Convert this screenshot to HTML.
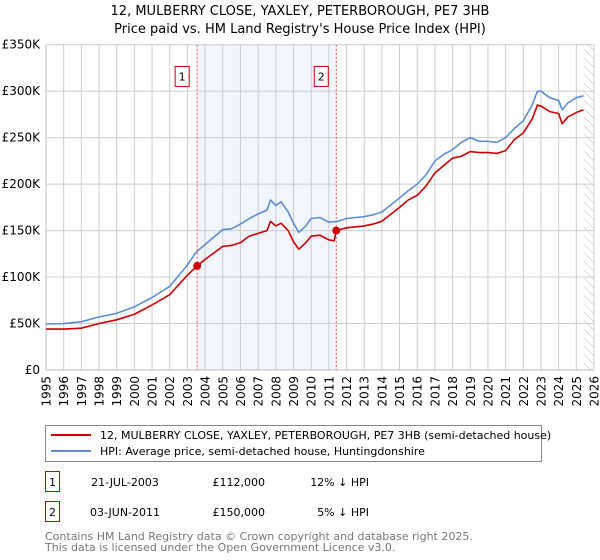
<!DOCTYPE html>
<html><head><meta charset="utf-8"><style>
body{margin:0;background:#fff;font-family:"Liberation Sans","DejaVu Sans",sans-serif;}
#wrap{position:relative;width:600px;height:560px;overflow:hidden}
svg text{font-family:"DejaVu Sans","Liberation Sans",sans-serif}
</style></head><body>
<div id="wrap">
<svg id="c" width="600" height="560"></svg>
</div>
<script>
const hpiYears=[1995,1996,1997,1998,1999,2000,2001,2002,2003,2003.5,2004,2005,2005.5,2006,2006.5,2007,2007.5,2007.7,2008,2008.3,2008.7,2009,2009.3,2009.7,2010,2010.5,2011,2011.5,2012,2013,2013.5,2014,2015,2015.5,2016,2016.5,2017,2017.5,2018,2018.5,2019,2019.5,2020,2020.5,2021,2021.5,2022,2022.5,2022.8,2023,2023.5,2024,2024.2,2024.5,2025,2025.4];
const hpiValues=[49.5,50,52,57,61,68,78,90,113,127,135,151,152,157,163,168,172,183,177,181,170,158,148,155,163,164,159,160,163,165,167,170,185,193,200,210,225,232,237,245,250,246,246,245,250,260,268,285,300,300,293,290,280,287,293,295];
const priceYears=[1995,1996,1997,1998,1999,2000,2001,2002,2003,2003.55,2004,2005,2005.5,2006,2006.5,2007,2007.5,2007.7,2008,2008.3,2008.7,2009,2009.3,2009.7,2010,2010.5,2011,2011.3,2011.42,2012,2013,2013.5,2014,2015,2015.5,2016,2016.5,2017,2017.5,2018,2018.5,2019,2019.5,2020,2020.5,2021,2021.5,2022,2022.5,2022.8,2023,2023.5,2024,2024.2,2024.5,2025,2025.4];
const priceValues=[44,44,45,50,54,60,70,81,102,112,119,133,134,137,144,147,150,160,155,158,150,138,130,137,144,145,140,139,150,153,155,157,160,175,183,188,198,212,220,228,230,235,234,234,233,236,248,255,270,285,284,278,276,265,272,277,280];
const sales=[{n:"1",x:2003.55,v:112},{n:"2",x:2011.42,v:150}];
const yTicks=[0,50,100,150,200,250,300,350];
const yTickLabels=["£0","£50K","£100K","£150K","£200K","£250K","£300K","£350K"];
const xTicks=[1995,1996,1997,1998,1999,2000,2001,2002,2003,2004,2005,2006,2007,2008,2009,2010,2011,2012,2013,2014,2015,2016,2017,2018,2019,2020,2021,2022,2023,2024,2025,2026];

const L=46,R=594,T=44.7,B=370;
const X=y=>L+(y-1995)/31*(R-L);
const Y=v=>B-v/350*(B-T);
const svg=document.getElementById('c');
const NS='http://www.w3.org/2000/svg';
function mk(t,a,parent){const e=document.createElementNS(NS,t);for(const k in a)e.setAttribute(k,a[k]);(parent||svg).appendChild(e);return e;}

let t=mk('text',{x:300,y:15,'text-anchor':'middle','font-size':'13'});t.textContent='12, MULBERRY CLOSE, YAXLEY, PETERBOROUGH, PE7 3HB';


t=mk('text',{x:300,y:33,'text-anchor':'middle','font-size':'13'});t.textContent="Price paid vs. HM Land Registry's House Price Index (HPI)";



let sh=mk('rect',{x:X(sales[0].x),y:T,width:X(sales[1].x)-X(sales[0].x),height:B-T,fill:'#eef3fc',opacity:0.8});



const defs=mk('defs',{});
const pat=mk('pattern',{id:'h',width:6,height:6,patternUnits:'userSpaceOnUse',patternTransform:'rotate(-45)'},defs);
mk('line',{x1:0,y1:0,x2:0,y2:6,stroke:'#bbb','stroke-width':1},pat);
let hz=mk('rect',{x:X(2025.45),y:T,width:R-X(2025.45),height:B-T,fill:'url(#h)'});



xTicks.forEach(y=>{
  const g=mk('line',{x1:X(y),x2:X(y),y1:T,y2:B,stroke:'#ccc','stroke-width':1});
  
  
  const l=mk('text',{x:0,y:0,'text-anchor':'end','font-size':'12',transform:`translate(${X(y)+4.5},376) rotate(-90)`});l.textContent=y;
  
  
});
yTicks.forEach((v,i)=>{
  const g=mk('line',{x1:L,x2:R,y1:Y(v),y2:Y(v),stroke:'#ccc','stroke-width':1});
  
  
  const l=mk('text',{x:40,y:Y(v)+4,'text-anchor':'end','font-size':'12'});l.textContent=yTickLabels[i];
  
  
});
mk('line',{x1:L,x2:L,y1:T,y2:B,stroke:'#bbb'});
mk('line',{x1:L,x2:R,y1:B,y2:B,stroke:'#bbb'});

sales.forEach(s=>{
  const v=mk('line',{x1:X(s.x),x2:X(s.x),y1:T,y2:B,stroke:'#e55','stroke-width':1,'stroke-dasharray':'2,2'});
  
  
  const bx=mk('rect',{x:X(s.x)-22,y:Y(318)-8,width:14,height:20,fill:'#fff',stroke:'#c00'});
  
  
  const tx=mk('text',{x:X(s.x)-15,y:Y(318)+6,'text-anchor':'middle','font-size':'11'});tx.textContent=s.n;
  
  
});

function line(xs,vs,col,name){
  const p=mk('polyline',{points:xs.map((x,i)=>X(x)+','+Y(vs[i])).join(' '),fill:'none',stroke:col,'stroke-width':1.6,'stroke-linejoin':'round'});
  
  
}
line(hpiYears,hpiValues,'#5b8fd4','hpi-line');
line(priceYears,priceValues,'#cc0000','price-paid-line');
sales.forEach(s=>{
  const c=mk('circle',{cx:X(s.x),cy:Y(s.v),r:4,fill:'#cc0000'});
  
  
});

const lg=mk('g',{});


mk('rect',{x:45.5,y:425.5,width:496,height:36,fill:'#fff',stroke:'#888'},lg);
mk('line',{x1:51,x2:91,y1:435,y2:435,stroke:'#cc0000','stroke-width':2},lg);
mk('line',{x1:51,x2:91,y1:451,y2:451,stroke:'#5b8fd4','stroke-width':2},lg);
t=mk('text',{x:100,y:439,'font-size':'11'},lg);t.textContent='12, MULBERRY CLOSE, YAXLEY, PETERBOROUGH, PE7 3HB (semi-detached house)';


t=mk('text',{x:100,y:455,'font-size':'11'},lg);t.textContent='HPI: Average price, semi-detached house, Huntingdonshire';



const rows=[["1","21-JUL-2003","£112,000","12% ↓ HPI",483],["2","03-JUN-2011","£150,000","5% ↓ HPI",513]];
rows.forEach(r=>{
  const b=mk('rect',{x:45.5,y:r[4]-11.5,width:14,height:20,fill:'#fff',stroke:'#c00'});
  
  
  const items=[[52.5,r[0],'middle'],[125,r[1],'middle'],[265,r[2],'end'],[369,r[3],'end']];
  items.forEach(it=>{
    const e=mk('text',{x:it[0],y:r[4]+3,'text-anchor':it[2],'font-size':'11'});e.textContent=it[1];
    
    
  });
});
t=mk('text',{x:45,y:540,'font-size':'11',fill:'#777'});t.textContent='Contains HM Land Registry data © Crown copyright and database right 2025.';


t=mk('text',{x:45,y:551,'font-size':'11',fill:'#777'});t.textContent='This data is licensed under the Open Government Licence v3.0.';


</script>
</body></html>
